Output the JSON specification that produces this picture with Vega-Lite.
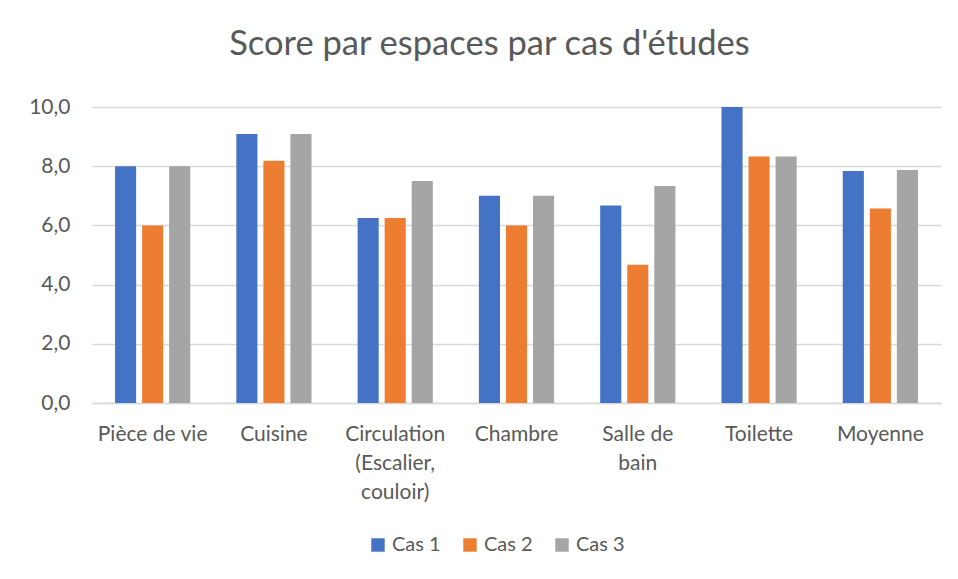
{
  "$schema": "https://vega.github.io/schema/vega-lite/v6.json",
  "width": 849,
  "height": 296,
  "autosize": {"type": "none"},
  "padding": {"left": 92, "top": 107, "right": 17, "bottom": 176},
  "background": "white",
  "title": {
    "text": "Score par espaces par cas d'études",
    "font": "Lato",
    "fontSize": 34.5,
    "fontWeight": "normal",
    "color": "#595959",
    "anchor": "middle",
    "dx": -27,
    "offset": 34
  },
  "data": {
    "values": [
      {"espace": "Pièce de vie", "cas": "Cas 1", "score": 8.0},
      {"espace": "Pièce de vie", "cas": "Cas 2", "score": 6.0},
      {"espace": "Pièce de vie", "cas": "Cas 3", "score": 8.0},
      {"espace": "Cuisine", "cas": "Cas 1", "score": 9.09},
      {"espace": "Cuisine", "cas": "Cas 2", "score": 8.18},
      {"espace": "Cuisine", "cas": "Cas 3", "score": 9.09},
      {"espace": "Circulation (Escalier, couloir)", "cas": "Cas 1", "score": 6.25},
      {"espace": "Circulation (Escalier, couloir)", "cas": "Cas 2", "score": 6.25},
      {"espace": "Circulation (Escalier, couloir)", "cas": "Cas 3", "score": 7.5},
      {"espace": "Chambre", "cas": "Cas 1", "score": 7.0},
      {"espace": "Chambre", "cas": "Cas 2", "score": 6.0},
      {"espace": "Chambre", "cas": "Cas 3", "score": 7.0},
      {"espace": "Salle de bain", "cas": "Cas 1", "score": 6.67},
      {"espace": "Salle de bain", "cas": "Cas 2", "score": 4.67},
      {"espace": "Salle de bain", "cas": "Cas 3", "score": 7.33},
      {"espace": "Toilette", "cas": "Cas 1", "score": 10.0},
      {"espace": "Toilette", "cas": "Cas 2", "score": 8.33},
      {"espace": "Toilette", "cas": "Cas 3", "score": 8.33},
      {"espace": "Moyenne", "cas": "Cas 1", "score": 7.84},
      {"espace": "Moyenne", "cas": "Cas 2", "score": 6.57},
      {"espace": "Moyenne", "cas": "Cas 3", "score": 7.875}
    ]
  },
  "mark": {"type": "bar"},
  "encoding": {
    "x": {
      "field": "espace",
      "type": "nominal",
      "sort": null,
      "scale": {"paddingInner": 0.38, "paddingOuter": 0.19},
      "axis": {
        "title": null,
        "labelAngle": 0,
        "ticks": false,
        "domainColor": "#d9d9d9",
        "domainWidth": 1.5,
        "labelPadding": 20,
        "labelBaseline": "top",
        "labelLineHeight": 29,
        "labelOverlap": false,
        "labelExpr": "datum.label == 'Circulation (Escalier, couloir)' ? ['Circulation', '(Escalier,', 'couloir)'] : datum.label == 'Salle de bain' ? ['Salle de', 'bain'] : datum.label"
      }
    },
    "xOffset": {
      "field": "cas",
      "type": "nominal",
      "scale": {"paddingInner": 0.22, "paddingOuter": 0}
    },
    "y": {
      "field": "score",
      "type": "quantitative",
      "scale": {"domain": [0, 10]},
      "axis": {
        "title": null,
        "values": [0, 2, 4, 6, 8, 10],
        "format": ".1f",
        "labelExpr": "replace(datum.label, '.', ',')",
        "labelOverlap": false,
        "labelBound": false,
        "domain": false,
        "ticks": false,
        "labelPadding": 22,
        "gridColor": "#d9d9d9",
        "gridWidth": 1.5
      }
    },
    "color": {
      "field": "cas",
      "type": "nominal",
      "scale": {"domain": ["Cas 1", "Cas 2", "Cas 3"], "range": ["#4472C4", "#ED7D31", "#A5A5A5"]},
      "legend": {
        "title": null,
        "orient": "none",
        "legendX": 276,
        "legendY": 428,
        "direction": "horizontal",
        "symbolType": "square",
        "symbolSize": 180,
        "symbolStrokeWidth": 0,
        "labelFontSize": 20,
        "labelOffset": 4,
        "columnPadding": 19
      }
    }
  },
  "config": {
    "view": {"stroke": null},
    "font": "Lato",
    "axis": {"labelFont": "Lato", "labelFontSize": 21, "labelColor": "#595959"},
    "legend": {"labelFont": "Lato", "labelColor": "#595959"}
  }
}
